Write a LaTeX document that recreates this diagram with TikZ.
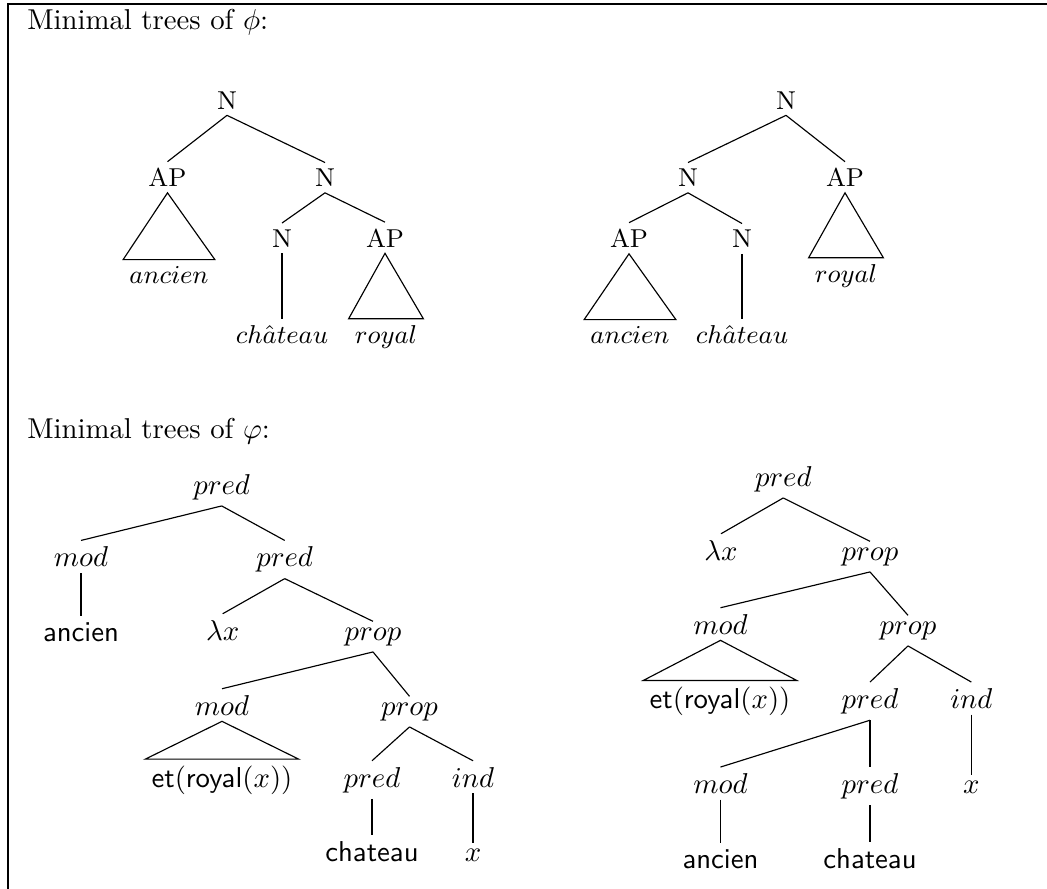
\documentclass[tikz,border=0pt]{standalone}
\begin{document}
\begin{tikzpicture}[x=0.348pt,y=-0.348pt,
  tn/.style={inner sep=2pt, anchor=base, font=\small},
  bn/.style={inner sep=2pt, anchor=base},
  ttl/.style={inner sep=0pt, anchor=base west},
  edg/.style={line width=0.4pt},
  frm/.style={line width=0.6pt}]
\useasboundingbox (0,0) rectangle (1047,888);
\clip (0,0) rectangle (1047,888);
\coordinate (fbl) at (8.2,900);
\coordinate (ftl) at (8.2,4.2);
\coordinate (ftr) at (1060,4.2);
\draw[frm] (fbl) -- (ftl) -- (ftr);

\node[ttl] (title1) at (26.7,29.5) {Minimal trees of $\phi$:};
\node[ttl] (title2) at (26.7,438.5) {Minimal trees of $\varphi$:};

% tree 1 (top left)
\node[tn] (t1r) at (227,109) {N};
\node[tn] (t1a) at (167.5,186.5) {AP};
\node[tn] (t1n) at (325,186.5) {N};
\node[tn] (t1l1) at (169,283) {$ancien$};
\node[tn] (t1n2) at (282,247) {N};
\node[tn] (t1a2) at (385,247) {AP};
\node[tn] (t1l2) at (282,343) {$ch\hat{a}teau$};
\node[tn] (t1l3) at (386,343) {$royal$};
\draw[edg] (t1r.south) -- (t1a.north);
\draw[edg] (t1r.south) -- (t1n.north);
\draw[edg] (t1a.south) -- (t1l1.north west) -- (t1l1.north east) -- cycle;
\draw[edg] (t1n.south) -- (t1n2.north);
\draw[edg] (t1n.south) -- (t1a2.north);
\draw[edg] (t1n2.south) -- (t1l2.north);
\draw[edg] (t1a2.south) -- (t1l3.north west) -- (t1l3.north east) -- cycle;

% tree 2 (top right)
\node[tn] (t2r) at (786,109) {N};
\node[tn] (t2n) at (688,186.5) {N};
\node[tn] (t2a) at (845,186.5) {AP};
\node[tn] (t2l3) at (846,282) {$royal$};
\node[tn] (t2a2) at (629,247.5) {AP};
\node[tn] (t2n2) at (742,247.5) {N};
\node[tn] (t2l1) at (630,343) {$ancien$};
\node[tn] (t2l2) at (742,343) {$ch\hat{a}teau$};
\draw[edg] (t2r.south) -- (t2n.north);
\draw[edg] (t2r.south) -- (t2a.north);
\draw[edg] (t2a.south) -- (t2l3.north west) -- (t2l3.north east) -- cycle;
\draw[edg] (t2n.south) -- (t2a2.north);
\draw[edg] (t2n.south) -- (t2n2.north);
\draw[edg] (t2a2.south) -- (t2l1.north west) -- (t2l1.north east) -- cycle;
\draw[edg] (t2n2.south) -- (t2l2.north);

% tree 3 (bottom left)
\node[bn] (b1) at (221.7,494) {$pred$};
\node[bn] (b2) at (81,566.7) {$mod$};
\node[bn] (b3) at (81,641) {\textsf{ancien}};
\node[bn] (b4) at (284.7,566.7) {$pred$};
\node[bn] (b5) at (222.7,640) {$\lambda x$};
\node[bn] (b6) at (373,640) {$prop$};
\node[bn] (b7) at (222,715) {$mod$};
\node[bn] (b8) at (222,787) {$\mathsf{et}(\mathsf{royal}(x))$};
\node[bn] (b9) at (409.5,715) {$prop$};
\node[bn] (b10) at (372,787) {$pred$};
\node[bn] (b11) at (473,787) {$ind$};
\node[bn] (b12) at (372,861.7) {\textsf{chateau}};
\node[bn] (b13) at (473,861.7) {$x$};
\draw[edg] (b1.south) -- (b2.north);
\draw[edg] (b1.south) -- (b4.north);
\draw[edg] (b2.south) -- (b3.north);
\draw[edg] (b4.south) -- (b5.north);
\draw[edg] (b4.south) -- (b6.north);
\draw[edg] (b6.south) -- (b7.north);
\draw[edg] (b6.south) -- (b9.north);
\draw[edg] (b7.south) -- (b8.north west) -- (b8.north east) -- cycle;
\draw[edg] (b9.south) -- (b10.north);
\draw[edg] (b9.south) -- (b11.north);
\draw[edg] (b10.south) -- (b12.north);
\draw[edg] (b11.south) -- (b13.north);

% tree 4 (bottom right)
\node[bn] (c1) at (783.3,486) {$pred$};
\node[bn] (c2) at (721,560) {$\lambda x$};
\node[bn] (c3) at (870,560) {$prop$};
\node[bn] (c4) at (720.5,634) {$mod$};
\node[bn] (c5) at (720,708.3) {$\mathsf{et}(\mathsf{royal}(x))$};
\node[bn] (c6) at (908,634) {$prop$};
\node[bn] (c7) at (870,708.3) {$pred$};
\node[bn] (c8) at (971.3,708.3) {$ind$};
\node[bn] (c9) at (720.5,793.3) {$mod$};
\node[bn] (c10) at (870,793.3) {$pred$};
\node[bn] (c11) at (971.3,793.3) {$x$};
\node[bn] (c12) at (720.5,868.3) {\textsf{ancien}};
\node[bn] (c13) at (870,868.3) {\textsf{chateau}};
\draw[edg] (c1.south) -- (c2.north);
\draw[edg] (c1.south) -- (c3.north);
\draw[edg] (c3.south) -- (c4.north);
\draw[edg] (c3.south) -- (c6.north);
\draw[edg] (c4.south) -- (c5.north west) -- (c5.north east) -- cycle;
\draw[edg] (c6.south) -- (c7.north);
\draw[edg] (c6.south) -- (c8.north);
\draw[edg] (c7.south) -- (c9.north);
\draw[edg] (c7.south) -- (c10.north);
\draw[edg] (c8.south) -- (c11.north);
\draw[edg] (c9.south) -- (c12.north);
\draw[edg] (c10.south) -- (c13.north);
\end{tikzpicture}
\end{document}
